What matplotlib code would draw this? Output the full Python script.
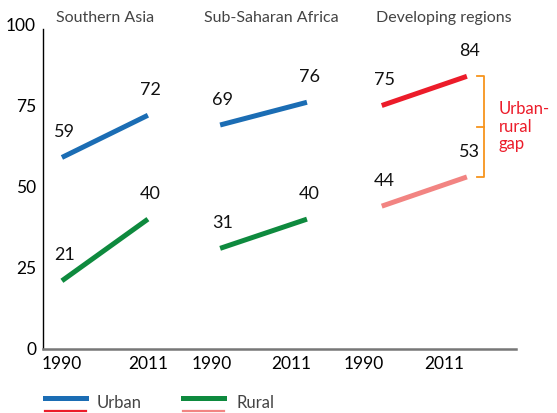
import matplotlib.pyplot as plt
from matplotlib.lines import Line2D

# data
regions = ['Southern Asia', 'Sub-Saharan Africa', 'Developing regions']
years = ['1990', '2011']
urban = [[59, 72], [69, 76], [75, 84]]
rural = [[21, 40], [31, 40], [44, 53]]

# x positions of the line ends for each panel, and of the year labels
x_pos = [[0.0, 1.0], [1.84, 2.85], [3.72, 4.71]]
tick_pos = [0.0, 1.0, 1.74, 2.67, 3.51, 4.45]
title_pos = [0.5, 2.44, 4.44]

BLUE = '#1b6db4'
GREEN = '#0e8a3e'
RED = '#ec1c2a'
PINK = '#f28482'
ORANGE = '#f7941d'

plt.rcParams['font.family'] = ['Lato', 'DejaVu Sans']

fig = plt.figure(figsize=(5.57, 4.13), dpi=100)
ax = fig.add_axes([0.0772, 0.155, 0.849, 0.786])

for i in range(3):
    cu = RED if i == 2 else BLUE
    cr = PINK if i == 2 else GREEN
    ax.plot(x_pos[i], urban[i], color=cu, lw=3.6, solid_capstyle='butt')
    ax.plot(x_pos[i], rural[i], color=cr, lw=3.6, solid_capstyle='butt')
    for j in range(2):
        ax.text(x_pos[i][j] + 0.03, urban[i][j] + 7.8, str(urban[i][j]),
                ha='center', va='center', fontsize=13, color='#111111')
        ax.text(x_pos[i][j] + 0.03, rural[i][j] + 7.8, str(rural[i][j]),
                ha='center', va='center', fontsize=13, color='#111111')
    ax.text(title_pos[i], 102, regions[i], ha='center', va='center',
            fontsize=11.5, color='#444444')

# urban-rural gap bracket
bx = x_pos[2][1] + 0.2
top, bot = urban[2][1], rural[2][1]
mid = (top + bot) / 2
ax.plot([bx - 0.08, bx, bx, bx - 0.08], [top, top, bot, bot], color=ORANGE, lw=1.3)
ax.plot([bx, bx - 0.08], [mid, mid], color=ORANGE, lw=1.3)
ax.text(bx + 0.17, mid, 'Urban-\nrural\ngap', color=RED, fontsize=12,
        ha='left', va='center', linespacing=1.1)

ax.set_xlim(-0.22, 5.28)
ax.set_ylim(0, 100)
ax.set_yticks([0, 25, 50, 75, 100])
ax.set_yticklabels(['0', '25', '50', '75', '100'], fontsize=12.5)
ax.set_xticks(tick_pos)
ax.set_xticklabels(years * 3, fontsize=12.5)
ax.tick_params(length=0, pad=5)
for s in ['top', 'right']:
    ax.spines[s].set_visible(False)
ax.spines['left'].set_linewidth(1.0)
ax.spines['left'].set_bounds(0, 98.5)
ax.spines['bottom'].set_color('#777777')
ax.spines['bottom'].set_linewidth(1.8)

# legend
def key(x0, y, color, lw):
    fig.add_artist(Line2D([x0, x0 + 0.073], [y, y], color=color, lw=lw,
                          transform=fig.transFigure))

key(0.081, 0.036, BLUE, 3.6)
key(0.081, 0.004, RED, 1.6)
key(0.329, 0.036, GREEN, 3.6)
key(0.329, 0.004, PINK, 1.6)
fig.text(0.174, 0.024, 'Urban', fontsize=12, color='#444444', va='center')
fig.text(0.425, 0.024, 'Rural', fontsize=12, color='#444444', va='center')

fig.savefig('out.png', dpi=100)
